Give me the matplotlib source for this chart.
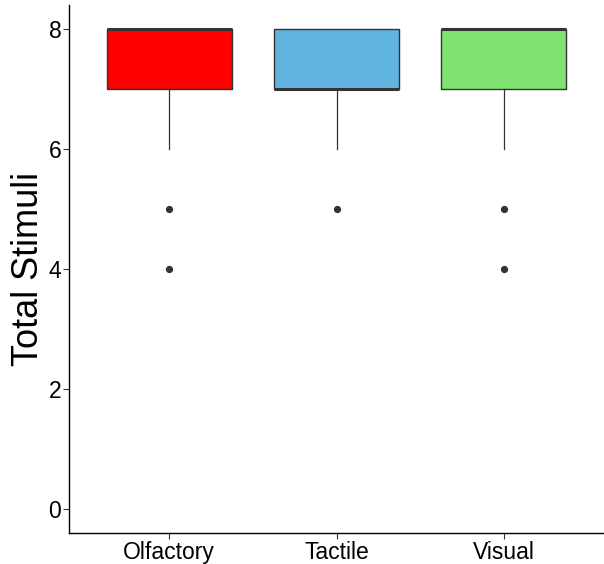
import matplotlib
matplotlib.use("Agg")
import matplotlib.pyplot as plt

categories = ["Olfactory", "Tactile", "Visual"]
q1 = [7, 7, 7]
medians = [8, 7, 8]
q3 = [8, 8, 8]
whisker_low = [6, 6, 6]
whisker_high = [8, 8, 8]
outliers = [[5, 4], [5], [5, 4]]
colors = ["#FF0000", "#61B3E0", "#7EE46F"]
yticks = [0, 2, 4, 6, 8]

plt.rcParams['font.family'] = ['Liberation Sans', 'DejaVu Sans']

fig = plt.figure(figsize=(6.04, 5.64), dpi=100)
ax = fig.add_axes([69/604, 31/564, (604-69)/604, (533-5)/564])

stats = []
for i, c in enumerate(categories):
    stats.append(dict(label=c, q1=q1[i], med=medians[i], q3=q3[i],
                      whislo=whisker_low[i], whishi=whisker_high[i],
                      fliers=outliers[i]))

bp = ax.bxp(stats, positions=range(len(categories)), widths=0.75,
            patch_artist=True, showcaps=False,
            boxprops=dict(edgecolor="#333333", linewidth=1.0),
            medianprops=dict(color="#333333", linewidth=2.2, solid_capstyle='butt'),
            whiskerprops=dict(color="#333333", linewidth=0.9),
            flierprops=dict(marker='o', markersize=4.2, markerfacecolor="#333333",
                            markeredgecolor="#333333", linestyle='none'))
for patch, col in zip(bp['boxes'], colors):
    patch.set_facecolor(col)

ax.set_xlim(-0.6, 2.6)
ax.set_ylim(-0.4, 8.4)
ax.set_yticks(yticks)
ax.set_yticklabels([str(t) for t in yticks])
ax.set_xticks(range(len(categories)))
ax.set_xticklabels(categories)
ax.tick_params(axis='both', labelsize=16.5, colors="#333333", length=4, width=0.8,
               labelcolor='black', pad=1.5)
ax.set_ylabel("Total Stimuli", fontsize=26, labelpad=2)
ax.spines['top'].set_visible(False)
ax.spines['right'].set_visible(False)
for s in ['left', 'bottom']:
    ax.spines[s].set_color('black')
    ax.spines[s].set_linewidth(1.0)

fig.savefig("out.png", dpi=100)
